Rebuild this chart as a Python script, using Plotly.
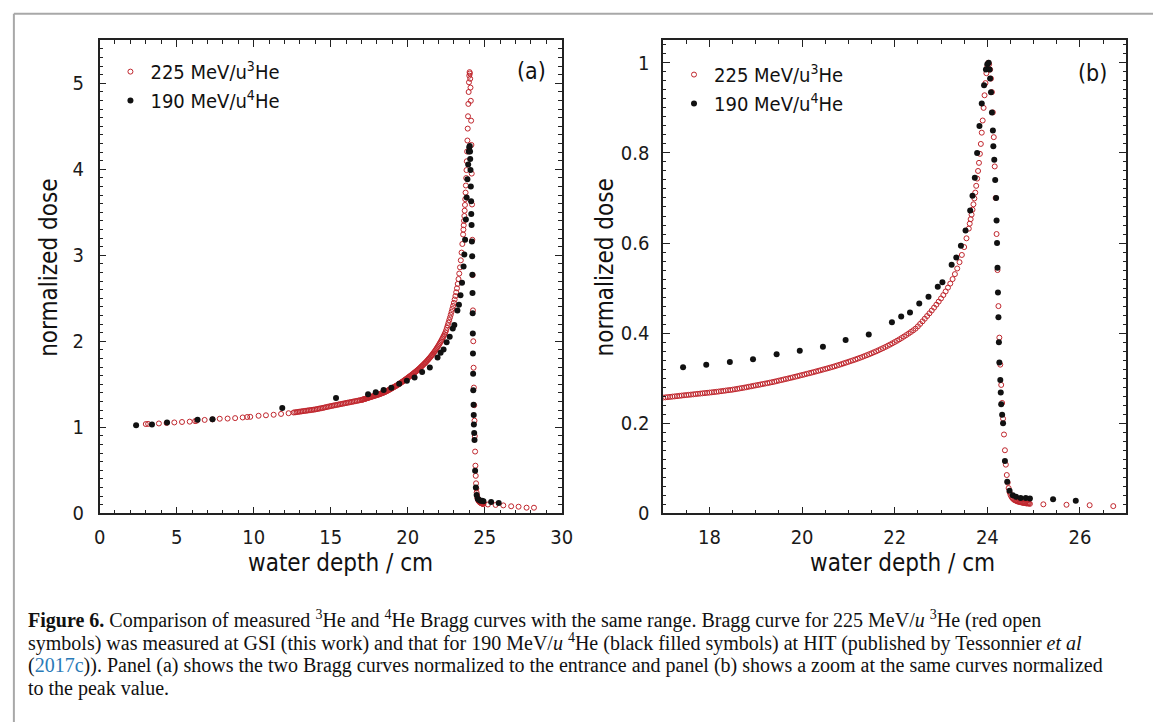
import plotly.graph_objects as go

# ---------------- data (dose normalized to the Bragg peak, as in panel b) ----------------
# 225 MeV/u 3He (GSI, red open symbols)
he3_depth_plateau = [3.00, 3.15, 3.85, 4.35, 4.85, 5.35, 5.85, 6.20, 6.30, 6.82, 7.33, 7.80,
                     8.31, 8.80, 9.29, 9.58, 9.78, 10.32, 10.80, 11.30, 11.78, 12.27]
he3_dose_plateau = [0.2023, 0.2027, 0.2037, 0.2047, 0.2060, 0.2070, 0.2078, 0.2090, 0.2098, 0.2117,
                    0.2129, 0.2144, 0.2148, 0.2158, 0.2173, 0.2183, 0.2187, 0.2211, 0.2222, 0.2234,
                    0.2253, 0.2269]

he3_depth_entrance = [12.6, 12.7, 12.8, 12.9, 13.0, 13.1, 13.2, 13.3, 13.4, 13.5, 13.6, 13.7, 13.8,
                      13.9, 14.0, 14.1, 14.2, 14.3, 14.4, 14.5, 14.6, 14.7, 14.8, 14.9, 15.0, 15.1,
                      15.2, 15.3, 15.4, 15.5, 15.6, 15.7, 15.8, 15.9, 16.0, 16.1, 16.2, 16.3, 16.4,
                      16.5, 16.6, 16.7, 16.8, 16.9, 17.0]
he3_dose_entrance = [.2285, .2290, .2295, .2300, .2305, .2310, .2315, .2320, .2325, .2330, .2335,
                     .2340, .2345, .2350, .2355, .2362, .2369, .2376, .2383, .2390, .2398, .2406,
                     .2414, .2422, .2430, .2437, .2444, .2451, .2458, .2465, .2472, .2479, .2486,
                     .2493, .2500, .2507, .2514, .2521, .2528, .2535, .2542, .2549, .2556, .2563,
                     .2570]

he3_depth_rise = [17.05, 17.10, 17.15, 17.20, 17.25, 17.30, 17.35, 17.40, 17.45, 17.50, 17.55, 17.60,
                  17.65, 17.70, 17.75, 17.80, 17.85, 17.90, 17.95, 18.00, 18.05, 18.10, 18.15, 18.20,
                  18.25, 18.30, 18.35, 18.40, 18.45, 18.50, 18.55, 18.60, 18.65, 18.70, 18.75, 18.80,
                  18.85, 18.90, 18.95, 19.00, 19.05, 19.10, 19.15, 19.20, 19.25, 19.30, 19.35, 19.40,
                  19.45, 19.50, 19.55, 19.60, 19.65, 19.70, 19.75, 19.80, 19.85, 19.90, 19.95, 20.00,
                  20.05, 20.10, 20.15, 20.20, 20.25, 20.30, 20.35, 20.40, 20.45, 20.50, 20.55, 20.60,
                  20.65, 20.70, 20.75, 20.80, 20.85, 20.90, 20.95, 21.00, 21.05, 21.10, 21.15, 21.20,
                  21.25, 21.30, 21.35, 21.40, 21.45, 21.50, 21.55, 21.60, 21.65, 21.70, 21.75, 21.80,
                  21.85, 21.90, 21.95, 22.00, 22.05, 22.10, 22.15, 22.20, 22.25, 22.30, 22.35, 22.40,
                  22.45, 22.50, 22.55, 22.60, 22.65, 22.70, 22.75, 22.80, 22.85, 22.90, 22.95, 23.00,
                  23.05, 23.10, 23.15, 23.20, 23.25, 23.30, 23.35, 23.40, 23.45, 23.50, 23.55, 23.60]
he3_dose_rise = [.2575, .2580, .2585, .2591, .2596, .2602, .2608, .2614, .2620, .2625, .2630, .2636,
                 .2641, .2647, .2653, .2658, .2664, .2669, .2675, .2680, .2686, .2692, .2698, .2704,
                 .2711, .2718, .2725, .2732, .2738, .2745, .2754, .2763, .2772, .2781, .2790, .2800,
                 .2810, .2820, .2830, .2840, .2850, .2860, .2870, .2880, .2890, .2900, .2911, .2922,
                 .2934, .2946, .2958, .2970, .2982, .2994, .3006, .3018, .3031, .3044, .3057, .3070,
                 .3083, .3096, .3109, .3122, .3135, .3149, .3163, .3177, .3191, .3205, .3219, .3233,
                 .3248, .3263, .3279, .3295, .3312, .3329, .3346, .3363, .3380, .3397, .3415, .3433,
                 .3452, .3471, .3491, .3511, .3532, .3553, .3575, .3597, .3620, .3644, .3668, .3693,
                 .3719, .3746, .3774, .3802, .3831, .3861, .3892, .3924, .3957, .3991, .4026, .4062,
                 .4100, .4150, .4205, .4262, .4320, .4380, .4440, .4502, .4566, .4632, .4700, .4770,
                 .4845, .4925, .5010, .5100, .5200, .5310, .5435, .5575, .5735, .5910, .6105, .6320]

he3_depth_peak = [23.62, 23.64, 23.66, 23.68, 23.70, 23.72, 23.74, 23.76, 23.78, 23.80, 23.82, 23.84,
                  23.86, 23.88, 23.90, 23.92, 23.94, 23.96, 23.98, 24.00, 24.02, 24.04, 24.06, 24.08,
                  24.10, 24.12, 24.14, 24.16, 24.18, 24.20, 24.22, 24.24, 24.26, 24.28, 24.30, 24.32,
                  24.34, 24.36, 24.38, 24.40, 24.42, 24.44, 24.46, 24.48, 24.50, 24.52, 24.54, 24.56,
                  24.58, 24.60, 24.62, 24.64, 24.66, 24.68, 24.70, 24.72, 24.74, 24.76, 24.78, 24.80,
                  24.82, 24.84, 24.86, 24.88, 24.90, 24.92]
he3_dose_peak = [.643, .653, .663, .674, .686, .699, .712, .727, .743, .760, .778, .798,
                 .820, .845, .872, .900, .928, .955, .977, .992, 1.000, .997, .985, .965,
                 .935, .890, .835, .770, .700, .620, .540, .460, .390, .330, .285, .245,
                 .210, .175, .140, .108, .085, .068, .056, .047, .041, .037, .034, .032,
                 .030, .029, .028, .027, .026, .026, .025, .025, .024, .024, .023, .023,
                 .023, .022, .022, .022, .022, .021]

he3_depth_tail = [25.21, 25.71, 26.21, 26.72, 27.20, 27.72, 28.20]
he3_dose_tail = [0.0200, 0.0190, 0.0180, 0.0160, 0.0150, 0.0128, 0.0127]

# 190 MeV/u 4He (HIT, black filled symbols)
he4_depth = [2.37, 3.40, 4.38, 6.36, 7.33, 11.86, 15.35, 17.43, 17.93, 18.44, 18.94, 19.45, 19.95,
             20.45, 20.94, 21.44, 21.94, 22.14, 22.33, 22.53, 22.73, 22.93, 23.03, 23.23, 23.33,
             23.43, 23.53, 23.63, 23.68, 23.73, 23.78, 23.83, 23.88, 23.93, 23.97, 24.00, 24.03,
             24.05, 24.06, 24.08, 24.10, 24.12, 24.13, 24.15, 24.17, 24.19, 24.20, 24.21, 24.22,
             24.23, 24.24, 24.25, 24.26, 24.28, 24.29, 24.30, 24.32, 24.34, 24.38, 24.43, 24.48,
             24.55, 24.62, 24.72, 24.83, 24.92, 25.42, 25.91]
he4_dose = [0.240, 0.242, 0.247, 0.255, 0.256, 0.287, 0.314, 0.324, 0.330, 0.336, 0.342, 0.353, 0.361,
            0.370, 0.385, 0.397, 0.424, 0.437, 0.446, 0.466, 0.481, 0.503, 0.513, 0.552, 0.568,
            0.594, 0.628, 0.672, 0.705, 0.745, 0.800, 0.860, 0.910, 0.950, 0.985, 0.997, 1.000,
            0.985, 0.965, 0.935, 0.890, 0.850, 0.815, 0.785, 0.740, 0.700, 0.650, 0.600, 0.545,
            0.490, 0.435, 0.380, 0.335, 0.296, 0.268, 0.242, 0.219, 0.200, 0.116, 0.070, 0.050,
            0.040, 0.037, 0.034, 0.034, 0.033, 0.031, 0.028]

# peak dose relative to the entrance dose (panel a normalization)
he3_peak_to_entrance = 5.13
he4_peak_to_entrance = 4.27

# tick labels
xa_ticks = [0, 5, 10, 15, 20, 25, 30]
ya_ticks = [0, 1, 2, 3, 4, 5]
xb_ticks = [18, 20, 22, 24, 26]
yb_ticks = [0, 0.2, 0.4, 0.6, 0.8, 1]
yb_ticktext = ["0", "0.2", "0.4", "0.6", "0.8", "1"]

he3_depth = he3_depth_plateau + he3_depth_entrance + he3_depth_rise + he3_depth_peak + he3_depth_tail
he3_dose = he3_dose_plateau + he3_dose_entrance + he3_dose_rise + he3_dose_peak + he3_dose_tail

he3_name = "225 MeV/u<sup>3</sup>He"
he4_name = "190 MeV/u<sup>4</sup>He"

# ---------------- style ----------------
W, H = 1153, 722
RED = "#c0262d"
BLACK = "#111111"
AXFONT = "DejaVu Sans Condensed, Roboto, sans-serif"
SERIF = "Liberation Serif, Times New Roman, serif"


def px(xp):
    return xp / W


def py(yp):
    return 1 - yp / H


fig = go.Figure()

red_marker = dict(symbol="circle-open", size=5, color=RED, line=dict(width=1, color=RED))
black_marker = dict(symbol="circle", size=6, color=BLACK)

fig.add_trace(go.Scatter(x=he3_depth, y=[d * he3_peak_to_entrance for d in he3_dose],
                         mode="markers", marker=red_marker, name=he3_name,
                         xaxis="x", yaxis="y", legend="legend"))
fig.add_trace(go.Scatter(x=he4_depth, y=[d * he4_peak_to_entrance for d in he4_dose],
                         mode="markers", marker=black_marker, name=he4_name,
                         xaxis="x", yaxis="y", legend="legend"))
fig.add_trace(go.Scatter(x=he3_depth, y=he3_dose, mode="markers", marker=red_marker,
                         name=he3_name, xaxis="x2", yaxis="y2", legend="legend2"))
fig.add_trace(go.Scatter(x=he4_depth, y=he4_dose, mode="markers", marker=black_marker,
                         name=he4_name, xaxis="x2", yaxis="y2", legend="legend2"))

common = dict(showline=True, linecolor="#222", linewidth=1.5, mirror="ticks", ticks="inside",
              ticklen=7, tickwidth=1.2, tickcolor="#222", showgrid=False, zeroline=False,
              tickfont=dict(family=AXFONT, size=20, color="#1a1a1a"))


def minor(dt, t0=0):
    return dict(tickmode="linear", tick0=t0, dtick=dt, ticks="inside", ticklen=3.5, tickwidth=1,
                tickcolor="#222", showgrid=False)


ydom = [py(522), py(41)]
fig.update_layout(
    width=W, height=H, margin=dict(l=0, r=0, t=0, b=0),
    paper_bgcolor="white", plot_bgcolor="white",
    xaxis=dict(common, domain=[px(95), px(564)], range=[0, 30], tickmode="array",
               tickvals=xa_ticks, minor=minor(1), anchor="y", ticklabelstandoff=5),
    yaxis=dict(common, domain=ydom, range=[0, 5.5], tickmode="array", tickvals=ya_ticks,
               minor=minor(0.1), anchor="x", ticklabelstandoff=10),
    xaxis2=dict(common, domain=[px(667), px(1137)], range=[17, 27], tickmode="array",
                tickvals=xb_ticks, minor=minor(0.5, 17), anchor="y2", ticklabelstandoff=5),
    yaxis2=dict(common, domain=ydom, range=[0, 1.05], tickmode="array", tickvals=yb_ticks,
                ticktext=yb_ticktext, minor=minor(0.02), anchor="x2", ticklabelstandoff=8),
    legend=dict(x=px(106), y=py(53), xanchor="left", yanchor="top", bgcolor="rgba(0,0,0,0)",
                font=dict(family=AXFONT, size=20, color="#111"), itemwidth=30),
    legend2=dict(x=px(678), y=py(56), xanchor="left", yanchor="top", bgcolor="rgba(0,0,0,0)",
                 font=dict(family=AXFONT, size=20, color="#111"), itemwidth=30),
    showlegend=True,
)

ann = []
for cx, cy, t in [(340, 573, "water depth / cm"), (910, 573, "water depth / cm")]:
    ann.append(dict(x=px(cx), y=py(cy), xref="paper", yref="paper", text=t, showarrow=False,
                    xanchor="center", yanchor="middle",
                    font=dict(family=AXFONT, size=24, color="#111")))
for cx in (44, 608):
    ann.append(dict(x=px(cx), y=py(272), xref="paper", yref="paper", text="normalized dose",
                    showarrow=False, textangle=-90, xanchor="center", yanchor="middle",
                    font=dict(family=AXFONT, size=24, color="#111")))
ann.append(dict(x=px(533), y=py(72), xref="paper", yref="paper", text="(a)", showarrow=False,
                xanchor="center", yanchor="middle", font=dict(family=AXFONT, size=23, color="#111")))
ann.append(dict(x=px(1103), y=py(74), xref="paper", yref="paper", text="(b)", showarrow=False,
                xanchor="center", yanchor="middle", font=dict(family=AXFONT, size=23, color="#111")))

caption = [
    "<b>Figure 6.</b> Comparison of measured <sup>3</sup>He and <sup>4</sup>He Bragg curves with the same range. "
    "Bragg curve for 225 MeV/<i>u</i> <sup>3</sup>He (red open",
    "symbols) was measured at GSI (this work) and that for 190 MeV/<i>u</i> <sup>4</sup>He (black filled symbols) "
    "at HIT (published by Tessonnier <i>et al</i>",
    "(<span style='color:#2a7ab8'>2017c</span>)). Panel (a) shows the two Bragg curves normalized to the entrance "
    "and panel (b) shows a zoom at the same curves normalized",
    "to the peak value.",
]
for i, line in enumerate(caption):
    ann.append(dict(x=px(20), y=py(630 + 23.5 * i), xref="paper", yref="paper", text=line,
                    showarrow=False, xanchor="left", yanchor="middle", align="left",
                    font=dict(family=SERIF, size=20, color="#111")))
fig.update_layout(annotations=ann)

# figure frame (page box)
fig.add_shape(type="line", xref="paper", yref="paper", x0=px(8), x1=1.02, y0=py(14), y1=py(14),
              line=dict(color="#a8a8a8", width=2))
fig.add_shape(type="line", xref="paper", yref="paper", x0=px(8), x1=px(8), y0=py(14), y1=-0.02,
              line=dict(color="#a8a8a8", width=2))

fig.write_html("out.html")
